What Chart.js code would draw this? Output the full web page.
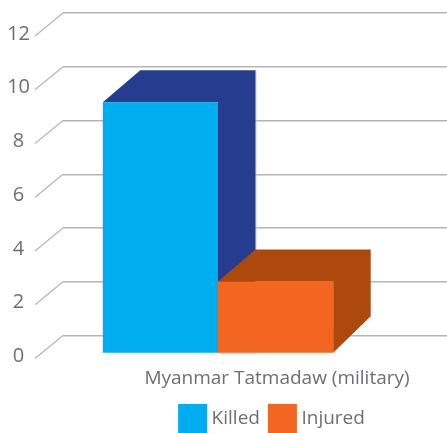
<!DOCTYPE html>
<html><head><meta charset="utf-8">
<style>html,body{margin:0;padding:0;background:#fff}canvas{display:block}</style>
<script src="https://cdn.jsdelivr.net/npm/chart.js@4"></script>
</head><body><canvas id="c" width="447" height="433"></canvas>
<script>
const categories = ["Myanmar Tatmadaw (military)"];
const killedValues = [9.35];
const injuredValues = [2.68];
const seriesNames = ["Killed", "Injured"];
const yTicks = [0, 2, 4, 6, 8, 10, 12];

const FRONT = ["#00aeef", "#f36621"];
const SIDE = ["#253c8f", "#ae490e"];
const GREY = "#6d6e71";
const GRID = "#b4b4bb";
const FONT = '"Open Sans", sans-serif';
// 3D offsets from the scale plane
const FX = -37, FY = 18, BX = 0.5, BY = -14, BASE_BACK = 317 - 335.5;

const depth3d = {
  id: "depth3d",
  beforeLayout(chart) {
    const lg = chart.legend;
    if (lg && !lg._wrapped) {
      const fit = lg.fit.bind(lg);
      lg.fit = function () { fit(); this.height = 40; };
      lg._wrapped = true;
    }
  },
  afterLayout(chart) {
    const lg = chart.legend;
    lg.left += 50.5; lg.right += 50.5;
    lg.legendHitBoxes.forEach(b => { b.left += 50.5; });
    lg.top = 396; lg.bottom = 433;
  },
  beforeDatasetsDraw(chart) {
    const c = chart.ctx, y = chart.scales.y, a = chart.chartArea;
    c.save();
    c.strokeStyle = GRID; c.lineWidth = 1.2;
    y.ticks.forEach(t => {
      const p = y.getPixelForValue(t.value);
      c.beginPath(); c.moveTo(a.left, p); c.lineTo(a.left - 28, p + 23); c.stroke();
    });
    // faint edge of the first bar's far side, showing past the second bar
    const k = chart.getDatasetMeta(0).data[0];
    const kr = k.x + k.width / 2;
    c.strokeStyle = "#c9c9dc"; c.lineWidth = 1;
    c.beginPath();
    c.moveTo(kr + BX + 0.5, k.y + BY);
    c.lineTo(kr + BX + 0.5, k.base + FY + 0.5);
    c.lineTo(kr + FX, k.base + FY + 0.5);
    c.stroke();
    chart.data.datasets.forEach((d, i) => {
      const el = chart.getDatasetMeta(i).data[0];
      const w = el.width / 2, l = el.x - w, r = el.x + w;
      c.fillStyle = SIDE[i];
      c.beginPath();
      c.moveTo(l + FX, el.y + FY);
      c.lineTo(l + BX, el.y + BY);
      c.lineTo(r + BX, el.y + BY);
      c.lineTo(r + BX, el.base + BASE_BACK);
      c.lineTo(r + FX, el.base + FY);
      c.lineTo(r + FX, el.y + FY);
      c.closePath(); c.fill();
    });
    c.restore();
  },
  beforeDatasetDraw(chart) { chart.ctx.save(); chart.ctx.translate(FX, FY); },
  afterDatasetDraw(chart) { chart.ctx.restore(); }
};

new Chart(document.getElementById("c"), {
  type: "bar",
  data: {
    labels: categories,
    datasets: [
      { label: seriesNames[0], data: killedValues, backgroundColor: FRONT[0], borderColor: FRONT[0], borderWidth: 0, clip: false },
      { label: seriesNames[1], data: injuredValues, backgroundColor: FRONT[1], borderColor: FRONT[1], borderWidth: 0, clip: false }
    ]
  },
  plugins: [depth3d],
  options: {
    responsive: false,
    animation: false,
    layout: { padding: { top: 13, left: 0, right: 0, bottom: 0 } },
    datasets: { bar: { barPercentage: 1, categoryPercentage: 0.6 } },
    plugins: {
      tooltip: { enabled: false },
      legend: {
        position: "bottom",
        labels: {
          color: GREY,
          font: { family: FONT, size: 19 },
          boxWidth: 19, boxHeight: 19, padding: 13,
          generateLabels(chart) {
            return chart.data.datasets.map((d, i) => ({
              text: d.label, fillStyle: FRONT[i], strokeStyle: FRONT[i],
              lineWidth: 10, lineJoin: "miter", fontColor: GREY, datasetIndex: i
            }));
          }
        }
      }
    },
    scales: {
      x: {
        grid: { display: false }, border: { display: false },
        afterFit(s) { s.height = 57.5; s.paddingLeft = 0; s.paddingRight = 0; },
        ticks: { color: GREY, font: { family: FONT, size: 19 }, padding: 24, labelOffset: 22, maxRotation: 0, autoSkip: false }
      },
      y: {
        min: 0, max: 12,
        afterFit(s) { s.width = 63; s.paddingTop = 0; s.paddingBottom = 0; },
        afterBuildTicks(s) { s.ticks = yTicks.map(v => ({ value: v })); },
        grid: { color: GRID, lineWidth: 1.5, drawTicks: false },
        border: { display: false },
        ticks: {
          color: GREY, crossAlign: "center", padding: 33, autoSkip: false,
          font: { family: FONT, size: 20, lineHeight: 2.1 },
          callback: v => ["", String(v)]
        }
      }
    }
  }
});
</script></body></html>
